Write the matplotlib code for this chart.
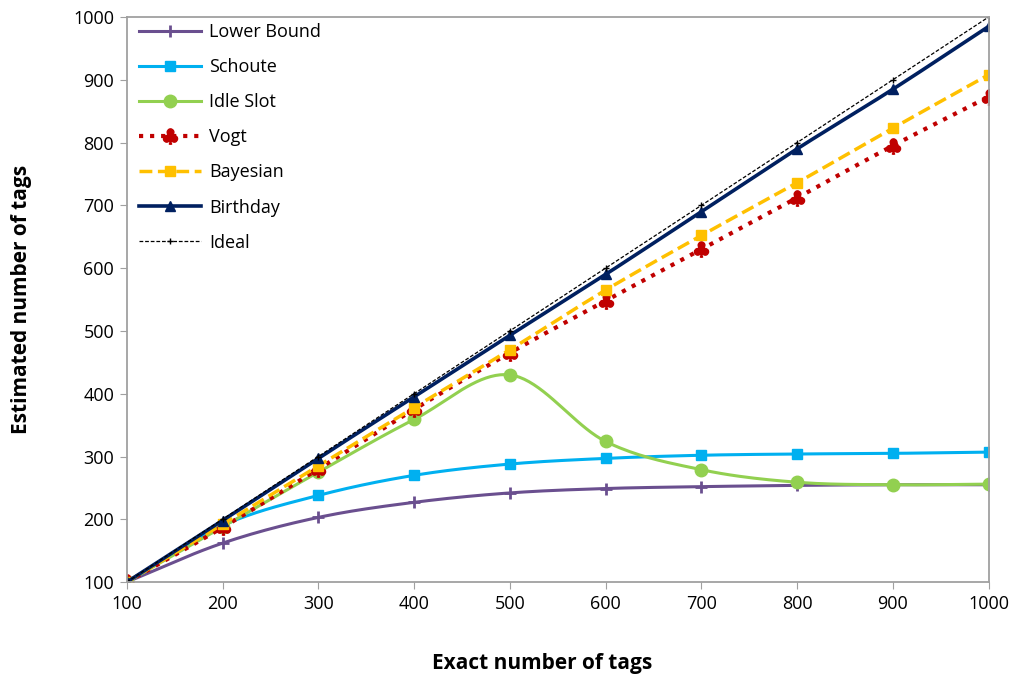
import numpy as np
import matplotlib
matplotlib.use('Agg')
import matplotlib.pyplot as plt

plt.rcParams['font.family'] = ['Open Sans', 'DejaVu Sans']

# data
exact = [100, 200, 300, 400, 500, 600, 700, 800, 900, 1000]
lower_bound = [100, 162, 203, 227, 242, 249, 252, 254, 255, 255]
schoute = [100, 190, 238, 270, 288, 297, 302, 304, 305, 307]
idle_slot = [100, 188, 275, 359, 430, 324, 279, 259, 255, 256]
vogt = [100, 187, 280, 375, 465, 548, 630, 712, 795, 873]
bayesian = [100, 192, 285, 378, 470, 565, 652, 736, 823, 908]
birthday = [100, 198, 297, 395, 493, 590, 690, 790, 885, 985]
ideal = [100, 200, 300, 400, 500, 600, 700, 800, 900, 1000]


def smooth(x, y, n=20):
    # catmull-rom through the points, like excel's smoothed line
    x = np.asarray(x, float)
    y = np.asarray(y, float)
    px = np.concatenate([[2 * x[0] - x[1]], x, [2 * x[-1] - x[-2]]])
    py = np.concatenate([[2 * y[0] - y[1]], y, [2 * y[-1] - y[-2]]])
    xs, ys = [], []
    t = np.linspace(0, 1, n, endpoint=False)
    for i in range(1, len(px) - 2):
        for p, out in ((px, xs), (py, ys)):
            p0, p1, p2, p3 = p[i - 1], p[i], p[i + 1], p[i + 2]
            out.extend(0.5 * ((2 * p1) + (-p0 + p2) * t
                              + (2 * p0 - 5 * p1 + 4 * p2 - p3) * t ** 2
                              + (-p0 + 3 * p1 - 3 * p2 + p3) * t ** 3))
    xs.append(x[-1])
    ys.append(y[-1])
    return np.array(xs), np.array(ys)


fig = plt.figure(figsize=(10.14, 6.8), dpi=100)
ax = fig.add_axes([0.125, 0.144, 0.85, 0.831])

series = [
    ('Lower Bound', lower_bound, '#6a4f8f', '-', '+', 2.2, 9),
    ('Schoute', schoute, '#00b0f0', '-', 's', 2.2, 7),
    ('Idle Slot', idle_slot, '#92d050', '-', 'o', 2.2, 9),
    ('Vogt', vogt, '#c00000', ':', r'$\clubsuit$', 3.0, 11),
    ('Bayesian', bayesian, '#ffc000', '--', 's', 2.5, 7),
    ('Birthday', birthday, '#002060', '-', '^', 2.6, 7),
]

for name, vals, col, ls, mk, lw, ms in series:
    sx, sy = smooth(exact, vals)
    ax.plot(sx, sy, color=col, linestyle=ls, linewidth=lw)
    ax.plot(exact, vals, linestyle='none', marker=mk, color=col,
            markersize=ms, markeredgewidth=2 if mk == '+' else 1)
    ax.plot([], [], color=col, linestyle=ls, linewidth=lw, marker=mk,
            markersize=ms, markeredgewidth=2 if mk == '+' else 1, label=name)

ax.plot(exact, ideal, color='black', linestyle='--', linewidth=0.9,
        marker='+', markersize=5, dashes=(3, 1.5), label='Ideal')

ax.set_xlim(100, 1000)
ax.set_ylim(100, 1000)
ax.set_xticks(range(100, 1001, 100))
ax.set_yticks(range(100, 1001, 100))
for s in ax.spines.values():
    s.set_color('#a0a0a0')
    s.set_linewidth(1.3)
ax.tick_params(direction='out', length=5, color='#a0a0a0', labelsize=13,
               labelcolor='black', pad=4)
ax.set_xlabel('Exact number of tags', fontsize=15, fontweight='bold',
              labelpad=22)
ax.xaxis.set_label_coords(0.482, -0.125)
ax.set_ylabel('Estimated number of tags', fontsize=15, fontweight='bold',
              labelpad=30)

leg = ax.legend(loc='upper left', frameon=False, fontsize=13,
                handlelength=3.4, handletextpad=0.45, labelspacing=0.95,
                bbox_to_anchor=(0.0, 1.012), borderaxespad=0.3)

fig.savefig('out.png', dpi=100, facecolor='white')
